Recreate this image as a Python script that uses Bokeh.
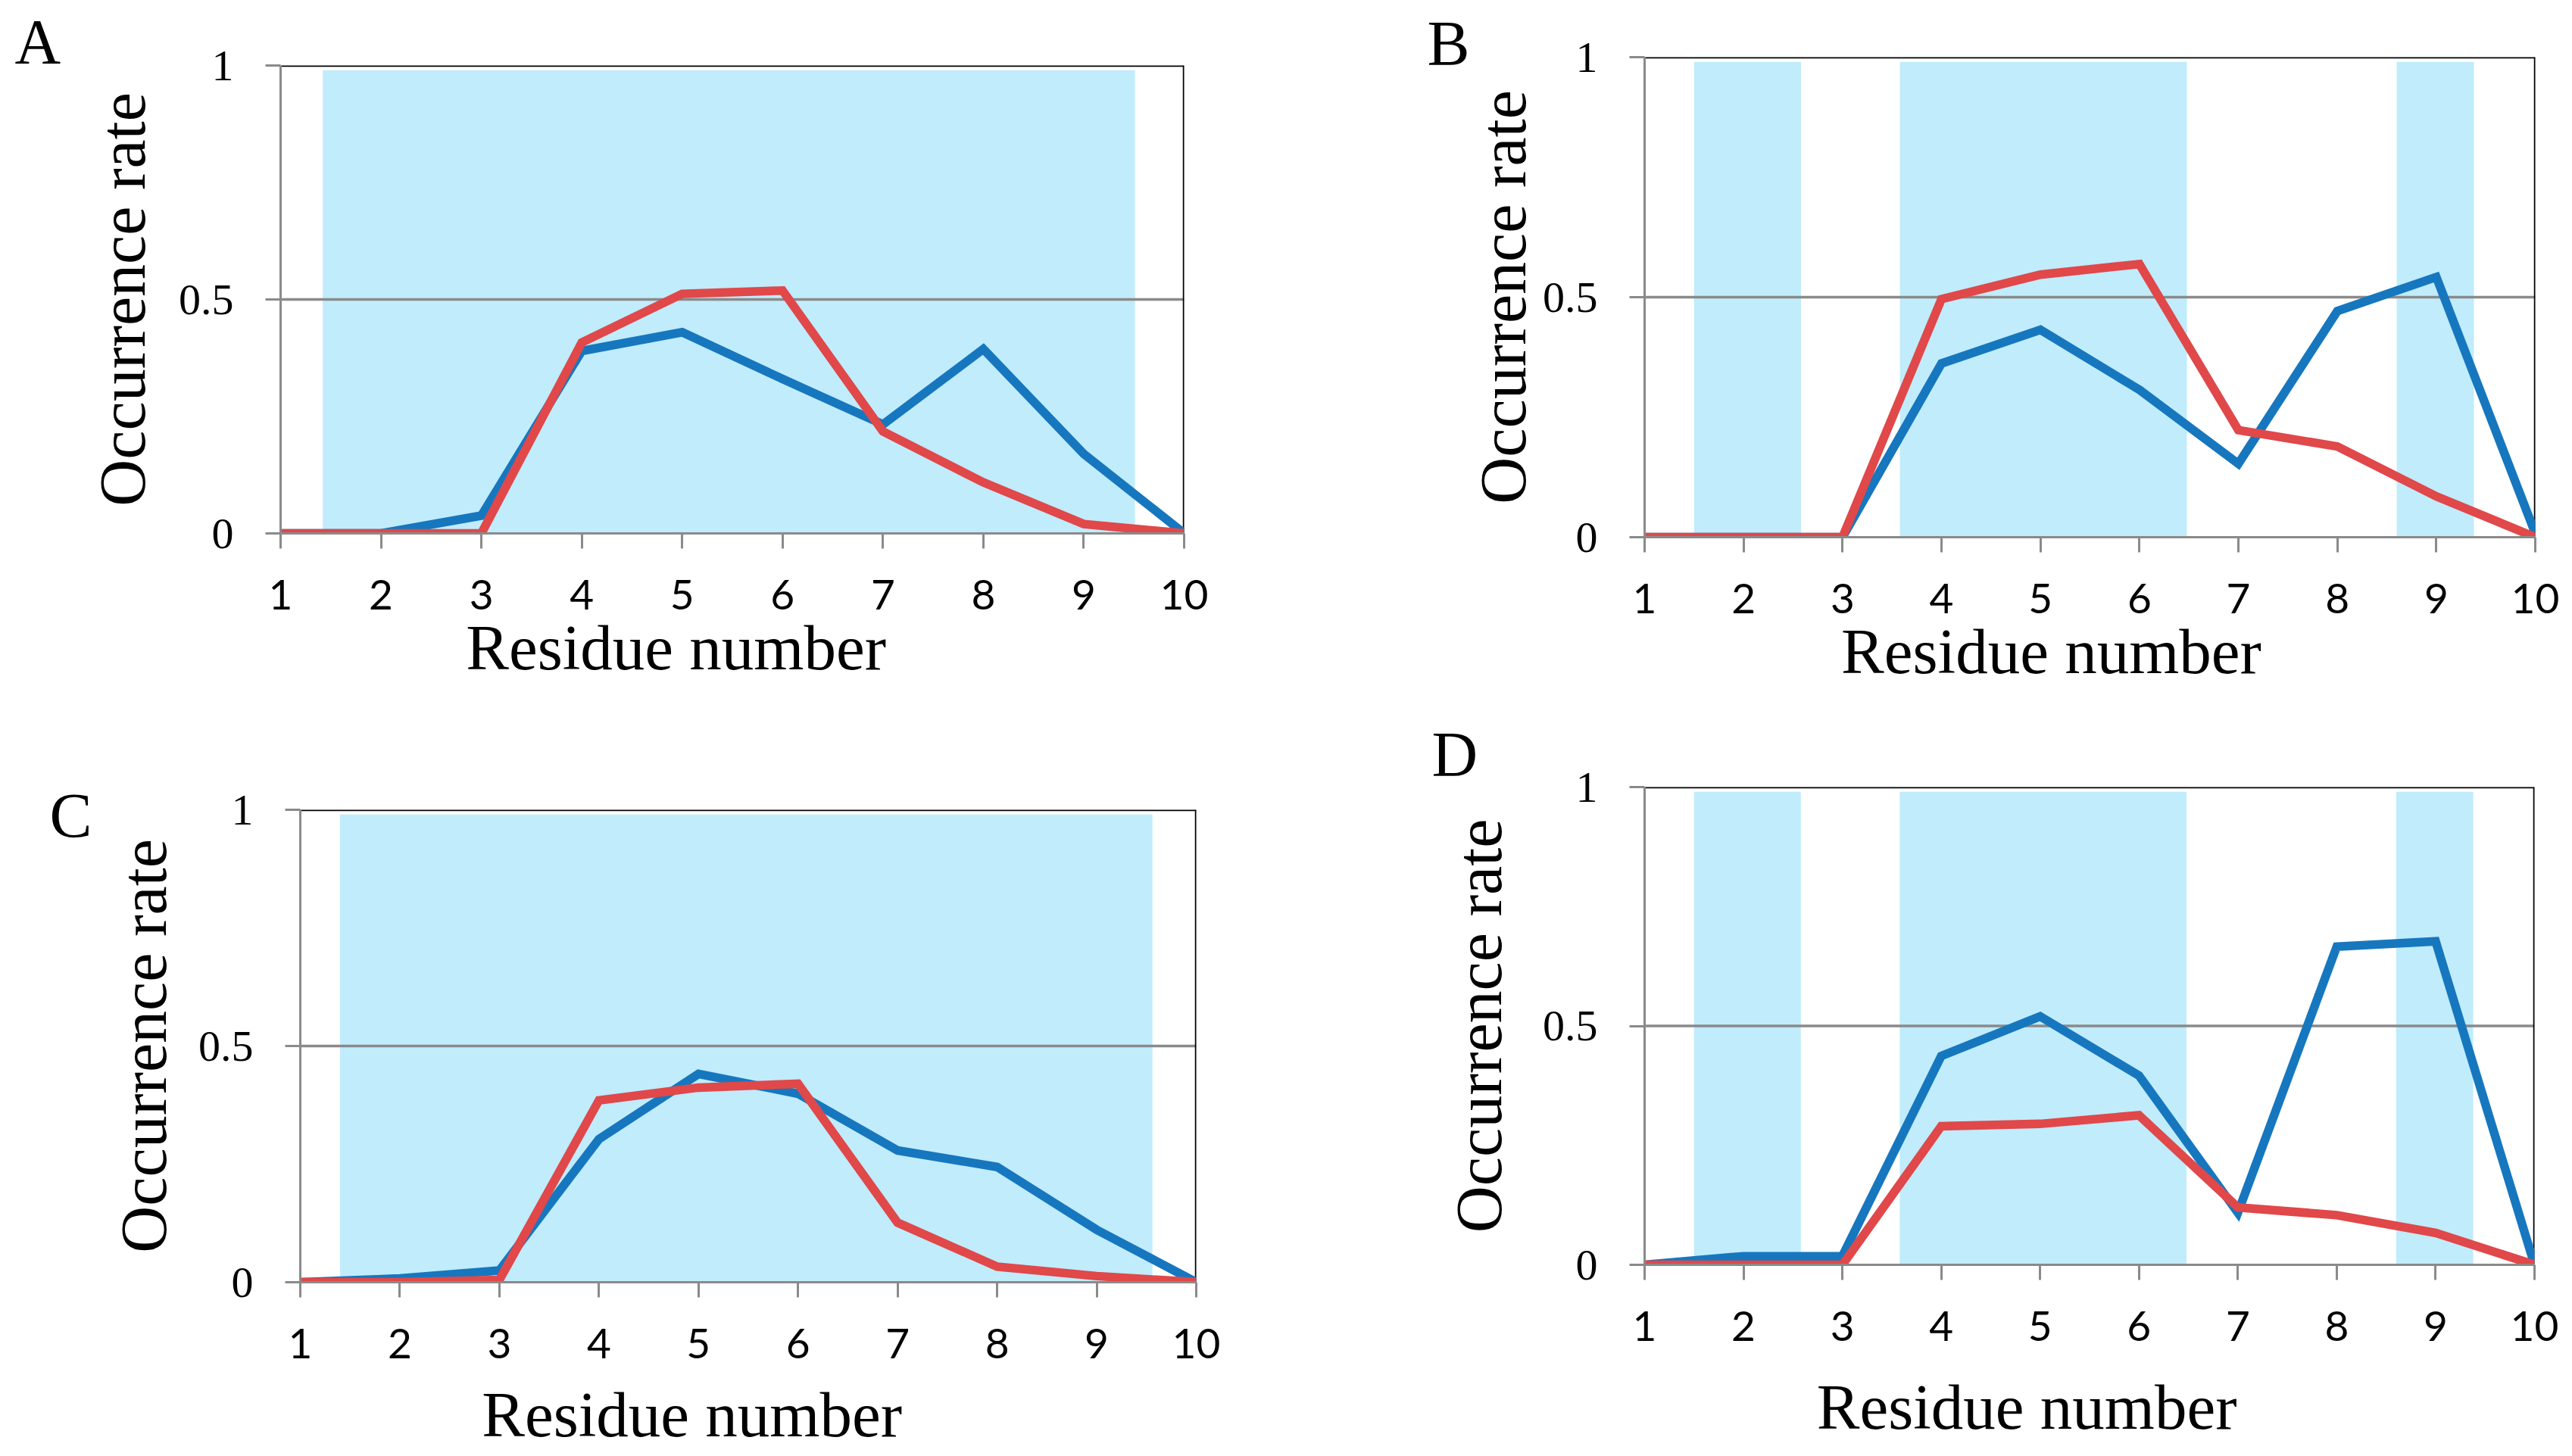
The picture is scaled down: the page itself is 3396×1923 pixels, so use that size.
from bokeh.plotting import figure
from bokeh.models import Range1d, FixedTicker, Span, BoxAnnotation, Title
from bokeh.layouts import row, column
from bokeh.embed import file_html
from bokeh.resources import INLINE

# ---------------- data ----------------
residues = [1, 2, 3, 4, 5, 6, 7, 8, 9, 10]

a_blue = [0.0, 0.0, 0.038, 0.39, 0.43, 0.33, 0.233, 0.394, 0.17, 0.0]
a_red = [0.0, 0.0, 0.0, 0.408, 0.512, 0.519, 0.218, 0.109, 0.02, 0.0]

b_blue = [0.0, 0.0, 0.0, 0.362, 0.432, 0.307, 0.153, 0.471, 0.542, 0.008]
b_red = [0.0, 0.0, 0.0, 0.496, 0.547, 0.569, 0.223, 0.189, 0.085, 0.0]

c_blue = [0.0, 0.008, 0.025, 0.303, 0.441, 0.399, 0.279, 0.244, 0.111, 0.0]
c_red = [0.0, 0.0, 0.005, 0.385, 0.412, 0.42, 0.126, 0.033, 0.013, 0.0]

d_blue = [0.0, 0.018, 0.018, 0.437, 0.52, 0.396, 0.109, 0.666, 0.677, 0.0]
d_red = [0.0, 0.0, 0.0, 0.29, 0.295, 0.313, 0.12, 0.104, 0.067, 0.0]

a_regions = [(1.42, 9.51)]
b_regions = [(1.5, 2.58), (3.58, 6.48), (8.6, 9.38)]
c_regions = [(1.40, 9.56)]
d_regions = [(1.5, 2.58), (3.58, 6.48), (8.6, 9.38)]

y_ticks = [0, 0.5, 1]
y_tick_labels = ["0", "0.5", "1"]

x_title = "Residue number"
y_title = "Occurrence rate"

# ---------------- style ----------------
BLUE = "#1677be"
RED = "#e0484a"
SHADE = "#c0ecfc"
GRAY = "#8a8a8a"
SERIF = "Liberation Serif"
SANS = "Lato"
NBSP = "\u00a0"
THIN = "\u2009"


def make_panel(letter, blue, red, regions, width, height, borders,
               ylab_standoff, xlab_pad, xlab_standoff,
               letter_offset, letter_standoff):
    p = figure(width=width, height=height, output_backend="svg",
               toolbar_location=None,
               x_range=Range1d(1, 10), y_range=Range1d(0, 1),
               min_border_left=borders[0], min_border_right=borders[1],
               min_border_top=borders[2], min_border_bottom=borders[3])
    p.outline_line_color = None
    p.background_fill_color = "white"
    p.border_fill_color = "white"
    p.xgrid.visible = False
    p.ygrid.visible = False

    # panel letter as the plot title
    p.title = Title(text=letter, align="left", offset=letter_offset,
                    standoff=letter_standoff, vertical_align="bottom",
                    text_font=SERIF, text_font_size="84px",
                    text_font_style="normal", text_color="black")

    for (l, r) in regions:
        p.add_layout(BoxAnnotation(left=l, right=r, bottom=0, top=0.99,
                                   fill_color=SHADE, fill_alpha=1.0,
                                   line_color=None, level="underlay"))
    p.add_layout(Span(location=0.5, dimension="width", line_color=GRAY,
                      line_width=3.5, level="underlay"))
    p.add_layout(Span(location=1, dimension="width", line_color="black",
                      line_width=3.5, level="underlay"))
    p.add_layout(Span(location=10, dimension="height", line_color="black",
                      line_width=3.5, level="underlay"))

    p.line(residues, blue, line_color=BLUE, line_width=11.5, line_join="miter")
    p.line(residues, red, line_color=RED, line_width=11.5, line_join="miter")

    for ax in (p.xaxis[0], p.yaxis[0]):
        ax.axis_line_color = GRAY
        ax.axis_line_width = 3
        ax.major_tick_line_color = GRAY
        ax.major_tick_line_width = 3
        ax.major_tick_out = 20
        ax.major_tick_in = 0
        ax.minor_tick_line_color = None
        ax.major_label_text_color = "black"

    xa = p.xaxis[0]
    xa.ticker = FixedTicker(ticks=residues)
    xa.major_label_text_font = SANS
    xa.major_label_text_font_size = "55px"
    xa.major_label_standoff = 41
    xa.axis_label = x_title + xlab_pad
    xa.axis_label_text_font = SERIF
    xa.axis_label_text_font_size = "85px"
    xa.axis_label_text_font_style = "normal"
    xa.axis_label_text_color = "black"
    xa.axis_label_standoff = xlab_standoff

    ya = p.yaxis[0]
    ya.ticker = FixedTicker(ticks=y_ticks)
    ya.major_label_overrides = {t: s for t, s in zip(y_ticks, y_tick_labels)}
    ya.major_label_text_font = SERIF
    ya.major_label_text_font_size = "58px"
    ya.major_label_standoff = 42
    ya.axis_label = y_title
    ya.axis_label_text_font = SERIF
    ya.axis_label_text_font_size = "86px"
    ya.axis_label_text_font_style = "normal"
    ya.axis_label_text_color = "black"
    ya.axis_label_standoff = ylab_standoff
    return p


pa = make_panel("A", a_blue, a_red, a_regions, 1698, 935, (370, 135, 86, 231),
                23, NBSP * 7, 0, -351, -30)
pb = make_panel("B", b_blue, b_red, b_regions, 1698, 935, (473, 49, 75, 226),
                1, NBSP * 4 + THIN, 0, -287, -56)
pc = make_panel("C", c_blue, c_red, c_regions, 1698, 988, (396, 119, 134, 230),
                21, NBSP * 7, 24, -331, -108)
pd = make_panel("D", d_blue, d_red, d_regions, 1698, 988, (473, 50, 104, 253),
                33, NBSP * 7 + THIN, 37, -281, -6)

layout = row(column(row(pa), row(pc)), column(row(pb), row(pd)))

with open("out.html", "w") as f:
    f.write(file_html(layout, INLINE))
